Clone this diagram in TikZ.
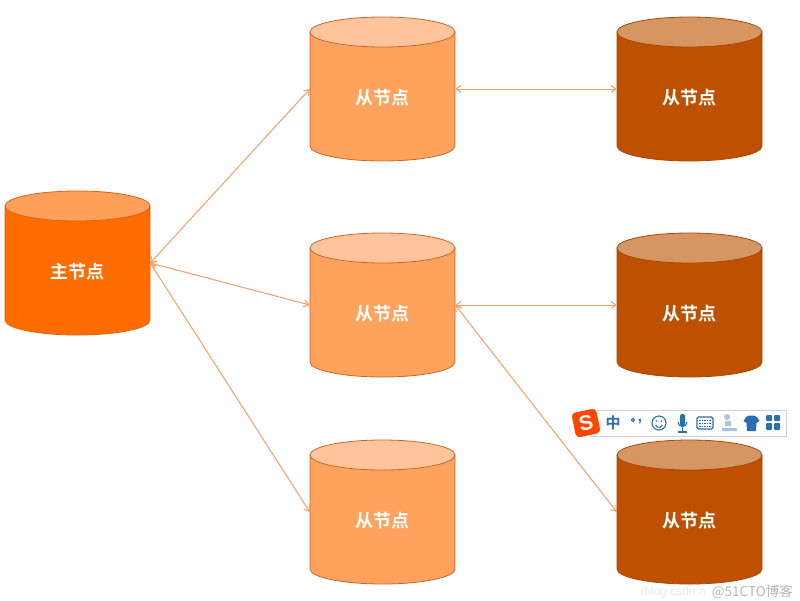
\documentclass[tikz,border=0pt]{standalone}
\usepackage{fontspec}
\setmainfont{Liberation Sans}
\newfontfamily\cjk{Noto Sans CJK SC}
\newfontfamily\cjkb{Noto Sans CJK SC Bold}
\usetikzlibrary{arrows.meta}
\definecolor{mainbody}{HTML}{FF6C00}
\definecolor{maintop}{HTML}{FF9F5C}
\definecolor{mainedge}{HTML}{D9660F}
\definecolor{midbody}{HTML}{FFA25E}
\definecolor{midtop}{HTML}{FFC49B}
\definecolor{midedge}{HTML}{C4692A}
\definecolor{darkbody}{HTML}{BE5000}
\definecolor{darktop}{HTML}{D69663}
\definecolor{darkedge}{HTML}{A84A08}
\definecolor{linkc}{HTML}{F0A06A}
\definecolor{barblue}{HTML}{2A6DB0}
\tikzset{
  x=1pt,y=-1pt,
  dbnode/.style={minimum width=145pt,minimum height=144pt,inner sep=0pt},
  dblabel/.style={inner sep=0pt,text=white,font=\cjkb\fontsize{18}{20}\selectfont},
  link/.style={draw=linkc,line width=1pt,{Straight Barb[length=5pt,width=7pt,color=linkc]}-{Straight Barb[length=5pt,width=7pt,color=linkc]}},
  barline/.style={draw=barblue,line width=1.1pt,fill=none},
}
% name, centre x, centre y, body, top, edge, text
\newcommand{\dbcyl}[7]{%
  \filldraw[fill=#4,draw=#6,line width=0.8pt]
    (#2-72.5,#3-57) -- (#2-72.5,#3+57)
    arc[start angle=180,end angle=360,x radius=72.5pt,y radius=15pt]
    -- (#2+72.5,#3-57) -- cycle;
  \filldraw[fill=#5,draw=#6,line width=0.8pt] (#2,#3-57) ellipse[x radius=72.5pt,y radius=15pt];
  \node[dbnode] (#1) at (#2,#3) {};
  \node[dblabel] (#1t) at (#2,#3+9) {#7};
}
\begin{document}
\begin{tikzpicture}
\useasboundingbox (0,0) rectangle (800,600);
\fill[white] (0,0) rectangle (800,600);
\dbcyl{m}{77.5}{263}{mainbody}{maintop}{mainedge}{主节点}
\dbcyl{a}{382.5}{89}{midbody}{midtop}{midedge}{从节点}
\dbcyl{b}{382.5}{305}{midbody}{midtop}{midedge}{从节点}
\dbcyl{c}{382.5}{512}{midbody}{midtop}{midedge}{从节点}
\dbcyl{d}{689.5}{89}{darkbody}{darktop}{darkedge}{从节点}
\dbcyl{e}{689.5}{305}{darkbody}{darktop}{darkedge}{从节点}
\dbcyl{f}{689.5}{512}{darkbody}{darktop}{darkedge}{从节点}
\draw[link] (m.east) -- (a.west);
\draw[link] (m.east) -- (b.west);
\draw[link] (m.east) -- (c.west);
\draw[link] (a.east) -- (d.west);
\draw[link] (b.east) -- (e.west);
\draw[link] (b.east) -- (f.west);
% input-method toolbar
\filldraw[fill=white,draw=black!18,line width=0.8pt] (590,410) rectangle (786,436);
\node[fill=orange!55!red,rounded corners=4pt,rotate=12,minimum size=25pt,inner sep=0pt,text=white,font=\bfseries\fontsize{21}{21}\selectfont] (logo) at (586,423) {S};
\node[text=barblue,inner sep=0pt,font=\cjkb\fontsize{15}{15}\selectfont] (zh) at (613,423) {中};
\draw[barline] (633,420) circle[radius=1.6pt];
\node[text=barblue,inner sep=0pt,font=\bfseries\fontsize{15}{15}\selectfont] (comma) at (640,422) {,};
\draw[barline] (659,423) circle[radius=7pt];
\fill[barblue] (656.5,421) circle[radius=0.9pt] (661.5,421) circle[radius=0.9pt];
\draw[barline] (655.5,425) arc[start angle=200,end angle=340,radius=3.7pt];
\fill[barblue,rounded corners=2pt] (680,414) rectangle (685,426);
\draw[barline] (678,422) arc[start angle=180,end angle=360,radius=4.5pt];
\draw[barline] (682.5,427) -- (682.5,432) (678,432) -- (687,432);
\draw[barline,rounded corners=1.5pt] (697,417) rectangle (713,429);
\foreach \yy in {420,423,426} \draw[barblue,line width=1pt,dash pattern=on 1.5pt off 1pt] (699,\yy) -- (711,\yy);
\fill[barblue!40] (727,417) circle[radius=3pt] (722,431) rectangle (737,428) (725,426) rectangle (731,421);
\fill[barblue] (746,417) -- (749,415.5) -- (754,415.5) -- (757,417) -- (759.5,421) -- (756.5,423) -- (756,431) -- (747,431) -- (746.5,423) -- (743.5,421) -- cycle;
\fill[barblue,rounded corners=1pt] (766,415) rectangle (772,421) (774,415) rectangle (780,421) (766,423) rectangle (772,430) (774,423) rectangle (780,430);
% watermark
\node[text=black!28,anchor=east,inner sep=0pt,font=\cjk\fontsize{13.5}{15}\selectfont] (wm) at (793,592) {@51CTO博客};
\node[text=black!8,anchor=east,inner sep=0pt,font=\fontsize{12}{14}\selectfont] (wm2) at (706,592) {/blog.csdn.n};
\end{tikzpicture}
\end{document}
